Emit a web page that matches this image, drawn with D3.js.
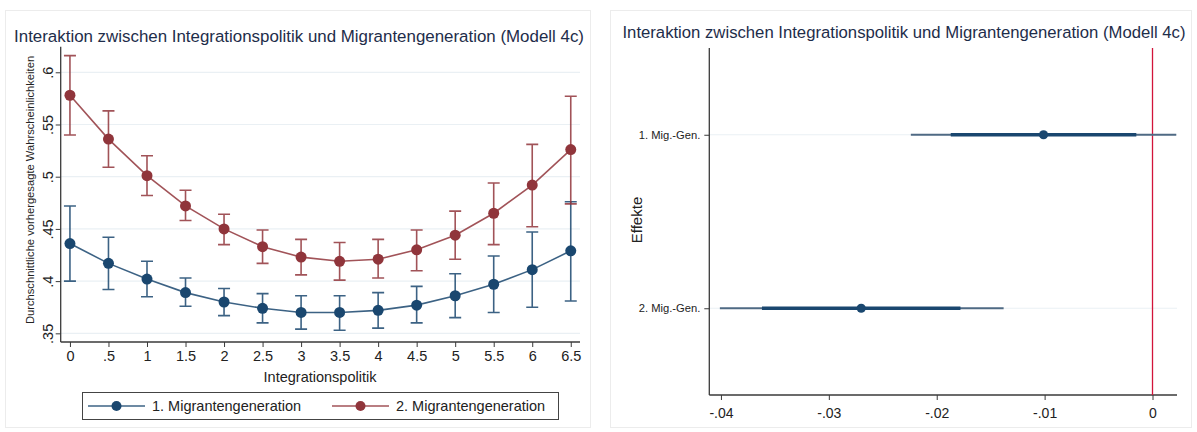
<!DOCTYPE html>
<html>
<head>
<meta charset="utf-8">
<script src="https://cdn.jsdelivr.net/npm/d3@7"></script>
<style>
  html, body { margin: 0; padding: 0; background: #ffffff; }
  svg { display: block; font-family: "Liberation Sans", Arial, sans-serif; }
</style>
</head>
<body>
<svg id="chart" width="1197" height="432"></svg>
<script>
// ---- Data: predicted probabilities by integration policy ----
const policyLevels = [0, 0.5, 1, 1.5, 2, 2.5, 3, 3.5, 4, 4.5, 5, 5.5, 6, 6.5];
const policyTickLabels = ["0", ".5", "1", "1.5", "2", "2.5", "3", "3.5", "4", "4.5", "5", "5.5", "6", "6.5"];
const probTicks = [0.35, 0.4, 0.45, 0.5, 0.55, 0.6];
const probTickLabels = [".35", ".4", ".45", ".5", ".55", ".6"];

const gen1Mean  = [0.436, 0.417, 0.402, 0.389, 0.380, 0.374, 0.370, 0.370, 0.372, 0.377, 0.386, 0.397, 0.411, 0.429];
const gen1Lower = [0.400, 0.392, 0.385, 0.376, 0.367, 0.360, 0.354, 0.353, 0.355, 0.360, 0.365, 0.370, 0.375, 0.381];
const gen1Upper = [0.472, 0.442, 0.419, 0.403, 0.393, 0.388, 0.386, 0.386, 0.389, 0.395, 0.407, 0.424, 0.447, 0.476];

const gen2Mean  = [0.578, 0.536, 0.501, 0.472, 0.450, 0.433, 0.423, 0.419, 0.421, 0.430, 0.444, 0.465, 0.492, 0.526];
const gen2Lower = [0.540, 0.509, 0.482, 0.458, 0.435, 0.417, 0.406, 0.401, 0.403, 0.410, 0.421, 0.435, 0.452, 0.474];
const gen2Upper = [0.616, 0.563, 0.520, 0.487, 0.464, 0.449, 0.440, 0.437, 0.440, 0.449, 0.467, 0.494, 0.531, 0.577];

const seriesNames = ["1. Migrantengeneration", "2. Migrantengeneration"];

// ---- Data: coefficient plot ----
const effectNames = ["1. Mig.-Gen.", "2. Mig.-Gen."];
const effectEst     = [-0.0101, -0.0270];
const effectLo95    = [-0.0224, -0.0401];
const effectHi95    = [ 0.0022, -0.0138];
const effectLo90    = [-0.0187, -0.0362];
const effectHi90    = [-0.0015, -0.0178];
const effectTicks = [-0.04, -0.03, -0.02, -0.01, 0];
const effectTickLabels = ["-.04", "-.03", "-.02", "-.01", "0"];

const titleText = "Interaktion zwischen Integrationspolitik und Migrantengeneration (Modell 4c)";

// ---- Styles ----
const blue = "#1a476f";
const red = "#90353b";
const titleColor = "#1e2d4a";
const gridColor = "#eaf0f4";
const axisColor = "#3a3a3a";

const svg = d3.select("#chart");

// panel frames
svg.append("rect").attr("x", 5.5).attr("y", 10.5).attr("width", 585).attr("height", 417)
  .attr("fill", "#fff").attr("stroke", "#ececec");
svg.append("rect").attr("x", 610.5).attr("y", 10.5).attr("width", 581).attr("height", 417)
  .attr("fill", "#fff").attr("stroke", "#ececec");

// ================= Left panel =================
const L = svg.append("g");
const xL = d3.scaleLinear().domain([-0.12, 6.62]).range([60.7, 580]);
const yL = d3.scaleLinear().domain([0.3417, 0.6245]).range([342, 46.7]);

L.append("text").attr("x", 299).attr("y", 42).attr("text-anchor", "middle")
  .attr("font-size", 16.9).attr("fill", titleColor).text(titleText);

// gridlines
L.append("g").selectAll("line").data(probTicks).join("line")
  .attr("x1", xL.range()[0]).attr("x2", xL.range()[1])
  .attr("y1", d => yL(d)).attr("y2", d => yL(d))
  .attr("stroke", gridColor).attr("stroke-width", 1.2);

// y axis
const yAxisL = d3.axisLeft(yL).tickValues(probTicks)
  .tickFormat((d, i) => probTickLabels[i]).tickSize(5).tickPadding(4);
const gyL = L.append("g").attr("transform", `translate(${xL.range()[0]},0)`).call(yAxisL);
gyL.selectAll(".domain").attr("stroke", axisColor).attr("stroke-width", 1.3)
  .attr("d", `M0,${yL.range()[1]}V${yL.range()[0]}`);
gyL.selectAll(".tick line").attr("stroke", axisColor);
gyL.selectAll(".tick text").attr("font-size", 14.5).attr("fill", "#222")
  .attr("text-anchor", "middle").attr("x", 0).attr("dy", 0)
  .attr("transform", "translate(-13,0) rotate(-90)")
  .attr("dominant-baseline", "central");

// x axis
const xAxisL = d3.axisBottom(xL).tickValues(policyLevels)
  .tickFormat((d, i) => policyTickLabels[i]).tickSize(5).tickPadding(4);
const gxL = L.append("g").attr("transform", `translate(0,${yL.range()[0]})`).call(xAxisL);
gxL.select(".domain").attr("stroke", axisColor).attr("stroke-width", 1.3)
  .attr("d", `M${xL.range()[0]},0H${xL.range()[1]}`);
gxL.selectAll(".tick line").attr("stroke", axisColor);
gxL.selectAll(".tick text").attr("font-size", 14.5).attr("fill", "#222");

// axis titles
L.append("text").attr("transform", "translate(34,190) rotate(-90)")
  .attr("text-anchor", "middle").attr("font-size", 11.2).attr("fill", "#222")
  .text("Durchschnittliche vorhergesagte Wahrscheinlichkeiten");
L.append("text").attr("x", 320).attr("y", 382).attr("text-anchor", "middle")
  .attr("font-size", 14.5).attr("fill", "#222").text("Integrationspolitik");

// series
const seriesData = [
  { color: blue, mean: gen1Mean, lo: gen1Lower, hi: gen1Upper },
  { color: red,  mean: gen2Mean, lo: gen2Lower, hi: gen2Upper }
];
const line = d3.line().x(d => xL(d.x)).y(d => yL(d.y));
const capHalf = 6;
seriesData.forEach(s => {
  const pts = policyLevels.map((x, i) => ({ x, y: s.mean[i], lo: s.lo[i], hi: s.hi[i] }));
  const g = L.append("g");
  // confidence intervals
  g.selectAll("path.ci").data(pts).join("path").attr("class", "ci")
    .attr("d", d => `M${xL(d.x)},${yL(d.lo)}V${yL(d.hi)}` +
      `M${xL(d.x) - capHalf},${yL(d.lo)}H${xL(d.x) + capHalf}` +
      `M${xL(d.x) - capHalf},${yL(d.hi)}H${xL(d.x) + capHalf}`)
    .attr("fill", "none").attr("stroke", s.color).attr("stroke-opacity", 0.85).attr("stroke-width", 1.6);
  // connecting line
  g.append("path").datum(pts).attr("d", line)
    .attr("fill", "none").attr("stroke", s.color).attr("stroke-opacity", 0.85).attr("stroke-width", 1.6);
  // markers
  g.selectAll("circle").data(pts).join("circle")
    .attr("cx", d => xL(d.x)).attr("cy", d => yL(d.y)).attr("r", 5.5)
    .attr("fill", s.color);
});

// legend
const lg = L.append("g");
lg.append("rect").attr("x", 82.5).attr("y", 392.5).attr("width", 476).attr("height", 27)
  .attr("fill", "#fff").attr("stroke", "#444").attr("stroke-width", 1);
const legendItems = [
  { x: 88, color: blue, name: seriesNames[0] },
  { x: 332, color: red, name: seriesNames[1] }
];
legendItems.forEach(it => {
  lg.append("line").attr("x1", it.x).attr("x2", it.x + 57).attr("y1", 406).attr("y2", 406)
    .attr("stroke", it.color).attr("stroke-opacity", 0.85).attr("stroke-width", 1.6);
  lg.append("circle").attr("cx", it.x + 28.5).attr("cy", 406).attr("r", 5).attr("fill", it.color);
  lg.append("text").attr("x", it.x + 64).attr("y", 411).attr("font-size", 14.5).attr("fill", "#222")
    .text(it.name);
});

// ================= Right panel =================
const R = svg.append("g");
const xR = d3.scaleLinear().domain([-0.04108, 0.00227]).range([709.3, 1177]);
const yR = d3.scaleLinear().domain([0.5, 2.5]).range([48, 395]);

R.append("text").attr("x", 904).attr("y", 38).attr("text-anchor", "middle")
  .attr("font-size", 16.7).attr("fill", titleColor).text(titleText);

// horizontal gridlines at each effect
R.append("g").selectAll("line").data(effectNames).join("line")
  .attr("x1", xR.range()[0]).attr("x2", xR.range()[1])
  .attr("y1", (d, i) => yR(i + 1)).attr("y2", (d, i) => yR(i + 1))
  .attr("stroke", gridColor).attr("stroke-width", 1.2);

// y axis with effect labels
const yAxisR = d3.axisLeft(yR).tickValues([1, 2])
  .tickFormat(d => effectNames[d - 1]).tickSize(5).tickPadding(4);
const gyR = R.append("g").attr("transform", `translate(${xR.range()[0]},0)`).call(yAxisR);
gyR.select(".domain").attr("stroke", axisColor).attr("stroke-width", 1.3)
  .attr("d", `M0,${yR.range()[0]}V${yR.range()[1]}`);
gyR.selectAll(".tick line").attr("stroke", axisColor);
gyR.selectAll(".tick text").attr("font-size", 11.2).attr("fill", "#222");

// x axis
const xAxisR = d3.axisBottom(xR).tickValues(effectTicks)
  .tickFormat((d, i) => effectTickLabels[i]).tickSize(5).tickPadding(8);
const gxR = R.append("g").attr("transform", `translate(0,${yR.range()[1]})`).call(xAxisR);
gxR.select(".domain").attr("stroke", axisColor).attr("stroke-width", 1.3)
  .attr("d", `M${xR.range()[0]},0H${xR.range()[1]}`);
gxR.selectAll(".tick line").attr("stroke", axisColor);
gxR.selectAll(".tick text").attr("font-size", 14).attr("fill", "#222");

R.append("text").attr("transform", "translate(642,220) rotate(-90)")
  .attr("text-anchor", "middle").attr("font-size", 15).attr("fill", "#222").text("Effekte");

// zero reference line
R.append("line").attr("x1", xR(0)).attr("x2", xR(0))
  .attr("y1", yR.range()[0]).attr("y2", yR.range()[1])
  .attr("stroke", "#d2143a").attr("stroke-width", 1.3);

// coefficient estimates with 95% and 90% intervals
const effects = effectNames.map((n, i) => ({
  pos: i + 1, est: effectEst[i], lo95: effectLo95[i], hi95: effectHi95[i], lo90: effectLo90[i], hi90: effectHi90[i]
}));
const eg = R.append("g");
eg.selectAll("line.ci95").data(effects).join("line").attr("class", "ci95")
  .attr("x1", d => xR(d.lo95)).attr("x2", d => xR(d.hi95))
  .attr("y1", d => yR(d.pos)).attr("y2", d => yR(d.pos))
  .attr("stroke", "#4f6a84").attr("stroke-width", 1.8);
eg.selectAll("line.ci90").data(effects).join("line").attr("class", "ci90")
  .attr("x1", d => xR(d.lo90)).attr("x2", d => xR(d.hi90))
  .attr("y1", d => yR(d.pos)).attr("y2", d => yR(d.pos))
  .attr("stroke", blue).attr("stroke-width", 3.6);
eg.selectAll("circle").data(effects).join("circle")
  .attr("cx", d => xR(d.est)).attr("cy", d => yR(d.pos)).attr("r", 4.6)
  .attr("fill", blue);
</script>
</body>
</html>
